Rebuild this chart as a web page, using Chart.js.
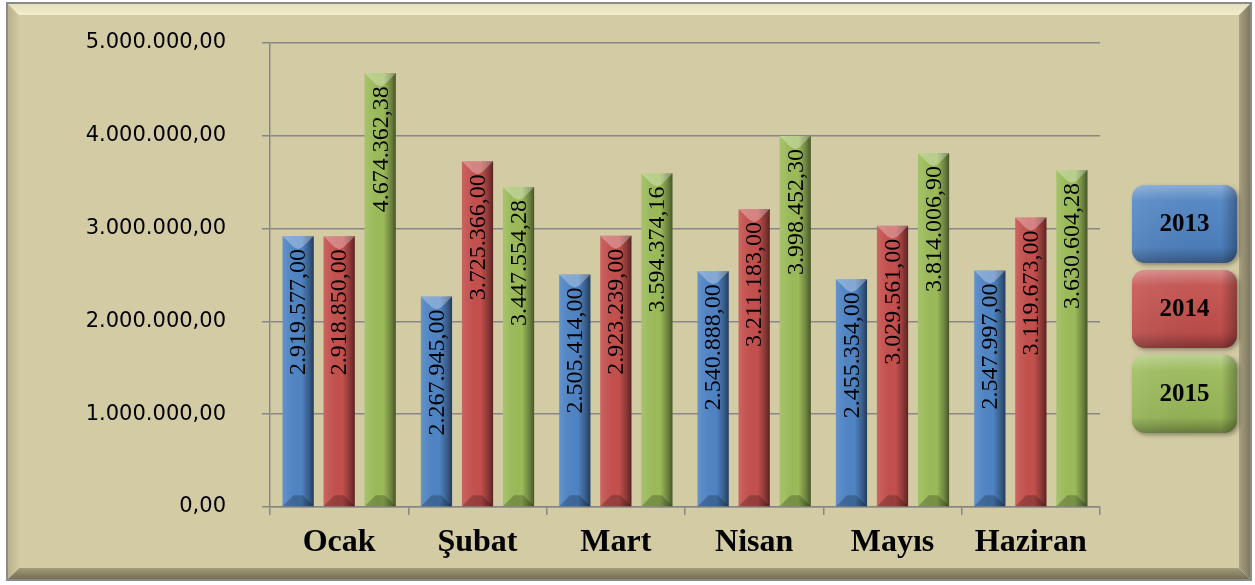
<!DOCTYPE html>
<html>
<head>
<meta charset="utf-8">
<script src="https://cdn.jsdelivr.net/npm/chart.js@4"></script>
<style>
  html, body { margin: 0; padding: 0; background: #fff; }
  canvas { display: block; }
</style>
</head>
<body>
<canvas id="chart" width="1255" height="585"></canvas>
<script>
const months = ['Ocak', 'Şubat', 'Mart', 'Nisan', 'Mayıs', 'Haziran'];
const years = ['2013', '2014', '2015'];
const values2013 = [2919577.00, 2267945.00, 2505414.00, 2540888.00, 2455354.00, 2547997.00];
const values2014 = [2918850.00, 3725366.00, 2923239.00, 3211183.00, 3029561.00, 3119673.00];
const values2015 = [4674362.38, 3447554.28, 3594374.16, 3998452.30, 3814006.90, 3630604.28];
const yMax = 5000000;
const yStep = 1000000;

const colors = ['#4F84C4', '#C4504D', '#9BBB59'];

// 1.234.567,89 style
function fmtTR(v) {
    const parts = Number(v).toFixed(2).split('.');
    parts[0] = parts[0].replace(/\B(?=(\d{3})+(?!\d))/g, '.');
    return parts.join(',');
}

// beveled beige frame behind everything
const framePlugin = {
    id: 'frame',
    beforeDraw(chart) {
        const ctx = chart.ctx;
        const x0 = 7, y0 = 3, x1 = 1251, y1 = 580, b = 12;
        ctx.save();
        ctx.fillStyle = '#fff';
        ctx.fillRect(0, 0, chart.width, chart.height);

        const poly = (pts, fill) => {
            ctx.beginPath();
            ctx.moveTo(pts[0][0], pts[0][1]);
            pts.slice(1).forEach(p => ctx.lineTo(p[0], p[1]));
            ctx.closePath();
            ctx.fillStyle = fill;
            ctx.fill();
        };
        let g = ctx.createLinearGradient(0, y0, 0, y0 + b);
        g.addColorStop(0, '#E4DDB8');
        g.addColorStop(1, '#F2EDCF');
        poly([[x0, y0], [x1, y0], [x1 - b, y0 + b], [x0 + b, y0 + b]], g);
        g = ctx.createLinearGradient(x0, 0, x0 + b, 0);
        g.addColorStop(0, '#B8B08A');
        g.addColorStop(1, '#D0C8A0');
        poly([[x0, y0], [x0 + b, y0 + b], [x0 + b, y1 - b], [x0, y1]], g);
        g = ctx.createLinearGradient(x1 - b, 0, x1, 0);
        g.addColorStop(0, '#A8A080');
        g.addColorStop(1, '#7C765C');
        poly([[x1, y0], [x1, y1], [x1 - b, y1 - b], [x1 - b, y0 + b]], g);
        g = ctx.createLinearGradient(0, y1 - b, 0, y1);
        g.addColorStop(0, '#A39B7A');
        g.addColorStop(1, '#6F6A52');
        poly([[x0, y1], [x1, y1], [x1 - b, y1 - b], [x0 + b, y1 - b]], g);

        ctx.fillStyle = '#D3CBA4';
        ctx.fillRect(x0 + b, y0 + b, x1 - x0 - 2 * b, y1 - y0 - 2 * b);

        ctx.strokeStyle = '#8A8A8A';
        ctx.lineWidth = 2;
        ctx.strokeRect(x0, y0, x1 - x0, y1 - y0);
        ctx.restore();
    }
};

// 3D shading on bars + vertical value labels
const barStylePlugin = {
    id: 'barStyle',
    afterDatasetsDraw(chart) {
        const ctx = chart.ctx;
        ctx.save();
        chart.data.datasets.forEach((ds, i) => {
            const meta = chart.getDatasetMeta(i);
            meta.data.forEach((bar, j) => {
                const w = bar.width;
                const left = bar.x - w / 2, right = bar.x + w / 2;
                const top = bar.y, base = bar.base;
                const bev = 11;

                let g = ctx.createLinearGradient(left, 0, right, 0);
                g.addColorStop(0, 'rgba(255,255,255,0.12)');
                g.addColorStop(0.15, 'rgba(255,255,255,0.06)');
                g.addColorStop(0.6, 'rgba(0,0,0,0)');
                g.addColorStop(0.85, 'rgba(0,0,0,0.30)');
                g.addColorStop(1, 'rgba(0,0,0,0.55)');
                ctx.fillStyle = g;
                ctx.fillRect(left, top, w, base - top);

                // top bevel (lighter V)
                ctx.beginPath();
                ctx.moveTo(left, top);
                ctx.lineTo(right, top);
                ctx.lineTo(right - bev, top + bev);
                ctx.lineTo(bar.x, top + bev + 2);
                ctx.lineTo(left + bev, top + bev);
                ctx.closePath();
                ctx.fillStyle = 'rgba(255,255,255,0.30)';
                ctx.fill();

                // bottom bevel (darker)
                ctx.beginPath();
                ctx.moveTo(left, base);
                ctx.lineTo(right, base);
                ctx.lineTo(right - bev, base - bev);
                ctx.lineTo(left + bev, base - bev);
                ctx.closePath();
                ctx.fillStyle = 'rgba(0,0,0,0.22)';
                ctx.fill();

                // value label, rotated
                ctx.save();
                ctx.translate(bar.x + 1, top + 13);
                ctx.rotate(-Math.PI / 2);
                ctx.fillStyle = '#000';
                ctx.font = '24px "Liberation Serif", "Times New Roman", serif';
                ctx.textAlign = 'right';
                ctx.textBaseline = 'middle';
                ctx.fillText(fmtTR(ds.data[j]), 0, 0);
                ctx.restore();
            });
        });
        ctx.restore();
    }
};

// rounded legend boxes on the right
const legendBoxPlugin = {
    id: 'legendBoxes',
    afterDraw(chart) {
        const ctx = chart.ctx;
        const bx = 1132, bw = 105, bh = 78, gap = 7;
        let by = 185;
        ctx.save();
        chart.data.datasets.forEach((ds, i) => {
            ctx.save();
            ctx.shadowColor = 'rgba(0,0,0,0.35)';
            ctx.shadowBlur = 4;
            ctx.shadowOffsetX = 2;
            ctx.shadowOffsetY = 2;
            ctx.beginPath();
            ctx.roundRect(bx, by, bw, bh, 13);
            ctx.fillStyle = colors[i];
            ctx.fill();
            ctx.restore();

            let g = ctx.createLinearGradient(0, by, 0, by + bh);
            g.addColorStop(0, 'rgba(255,255,255,0.35)');
            g.addColorStop(0.2, 'rgba(255,255,255,0.05)');
            g.addColorStop(0.8, 'rgba(0,0,0,0.05)');
            g.addColorStop(1, 'rgba(0,0,0,0.35)');
            ctx.beginPath();
            ctx.roundRect(bx, by, bw, bh, 13);
            ctx.fillStyle = g;
            ctx.fill();
            g = ctx.createLinearGradient(bx, 0, bx + bw, 0);
            g.addColorStop(0, 'rgba(255,255,255,0.08)');
            g.addColorStop(0.85, 'rgba(0,0,0,0)');
            g.addColorStop(1, 'rgba(0,0,0,0.3)');
            ctx.fillStyle = g;
            ctx.fill();

            ctx.fillStyle = '#000';
            ctx.font = 'bold 25px "Liberation Serif", "Times New Roman", serif';
            ctx.textAlign = 'center';
            ctx.textBaseline = 'middle';
            ctx.fillText(ds.label, bx + bw / 2, by + bh / 2 + 1);
            by += bh + gap;
        });
        ctx.restore();
    }
};

new Chart(document.getElementById('chart'), {
    type: 'bar',
    data: {
        labels: months,
        datasets: [
            { label: years[0], data: values2013, backgroundColor: colors[0] },
            { label: years[1], data: values2014, backgroundColor: colors[1] },
            { label: years[2], data: values2015, backgroundColor: colors[2] }
        ]
    },
    options: {
        responsive: false,
        animation: false,
        events: [],
        datasets: {
            bar: {
                categoryPercentage: 0.89,
                barPercentage: 0.76,
                borderWidth: 0
            }
        },
        layout: { padding: { left: 20, right: 155, top: 43, bottom: 0 } },
        scales: {
            y: {
                min: 0,
                max: yMax,
                ticks: {
                    stepSize: yStep,
                    callback: v => fmtTR(v),
                    color: '#000',
                    font: { family: '"DejaVu Sans", sans-serif', size: 21 },
                    padding: 36
                },
                grid: { color: '#878787', lineWidth: 1.5, tickLength: 8 },
                border: { color: '#878787', width: 1.5 },
                afterFit: s => { s.width = 250; s.paddingTop = 0; s.paddingBottom = 0; }
            },
            x: {
                offset: true,
                ticks: {
                    color: '#000',
                    font: { family: '"Liberation Serif", "Times New Roman", serif', size: 32, weight: 'bold' },
                    padding: 9
                },
                grid: { drawOnChartArea: false, color: '#878787', lineWidth: 1.5, tickLength: 8 },
                border: { color: '#878787', width: 1.5 },
                afterFit: s => { s.height = 78; s.paddingLeft = 0; s.paddingRight = 0; }
            }
        },
        plugins: {
            legend: { display: false },
            tooltip: { enabled: false }
        }
    },
    plugins: [framePlugin, barStylePlugin, legendBoxPlugin]
});
</script>
</body>
</html>
